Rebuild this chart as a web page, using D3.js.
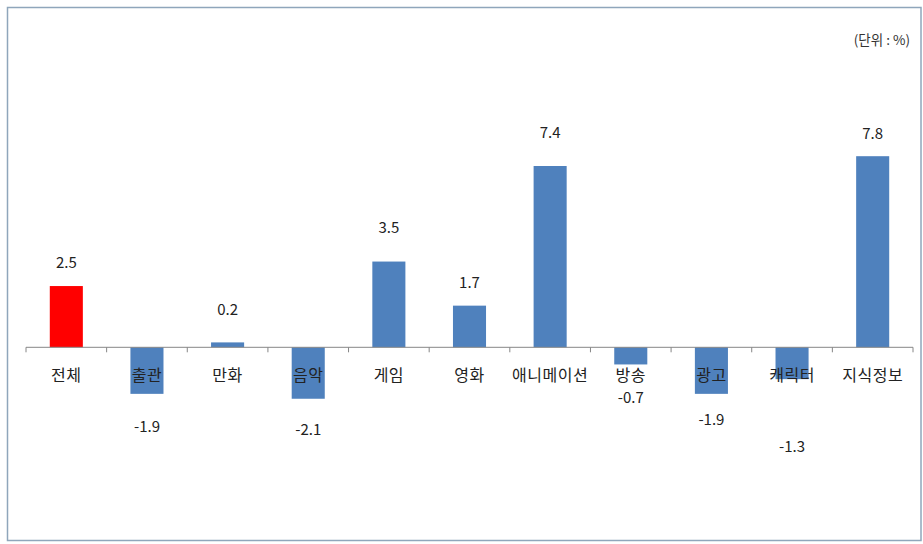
<!DOCTYPE html>
<html><head><meta charset="utf-8">
<script src="https://cdn.jsdelivr.net/npm/d3@7"></script>
<style>body{margin:0;background:#fff}svg{display:block}</style>
</head><body><svg id="c" width="923" height="544"></svg>
<script>
const categories = ["전체","출관","만화","음악","게임","영화","애니메이션","방송","광고","캐릭터","지식정보"];
const values = [2.5,-1.9,0.2,-2.1,3.5,1.7,7.4,-0.7,-1.9,-1.3,7.8];
const valueLabels = ["2.5","-1.9","0.2","-2.1","3.5","1.7","7.4","-0.7","-1.9","-1.3","7.8"];
const unitText = "(단위 : %)";
// label anchor positions (in value units) as placed in the original
const labelAt = [3.44,-3.25,1.52,-3.38,4.87,2.62,8.75,-2.07,-2.97,-4.07,8.71];

const svg = d3.select("#c");
const font = "'Noto Sans CJK KR','Malgun Gothic',sans-serif";

svg.append("rect").attr("x",7.5).attr("y",7.5).attr("width",913.5).attr("height",533)
  .attr("fill","#fff").attr("stroke","#8fa6bb").attr("stroke-width",1.5);

const x = d3.scaleBand().domain(categories).range([26,913]).padding(0);
const y = d3.scaleLinear().domain([-6,12]).range([494.3,53.3]);
const bw = x.bandwidth()*0.41;

svg.selectAll("rect.bar").data(values).join("rect").attr("class","bar")
  .attr("x",(d,i)=>x(categories[i])+(x.bandwidth()-bw)/2)
  .attr("width",bw)
  .attr("y",d=>Math.min(y(d),y(0)))
  .attr("height",d=>Math.abs(y(d)-y(0)))
  .attr("fill",(d,i)=>i===0?"#ff0000":"#4f81bd");

const g = svg.append("g");
g.append("line").attr("x1",26).attr("x2",913).attr("y1",y(0)).attr("y2",y(0))
  .attr("stroke","#868686").attr("stroke-width",1);
const ticks = categories.map(c=>x(c)).concat([x(categories[categories.length-1])+x.bandwidth()]);
g.selectAll("line.t").data(ticks).join("line").attr("class","t")
  .attr("x1",d=>d).attr("x2",d=>d).attr("y1",y(0)).attr("y2",y(0)+5)
  .attr("stroke","#868686").attr("stroke-width",1);

svg.selectAll("text.cat").data(categories).join("text").attr("class","cat")
  .attr("x",d=>x(d)+x.bandwidth()/2).attr("y",375).attr("dy","0.35em")
  .attr("text-anchor","middle").attr("font-family",font).attr("font-size",16)
  .attr("letter-spacing","0.5px")
  .attr("fill","#222").text(d=>d);

svg.selectAll("text.val").data(valueLabels).join("text").attr("class","val")
  .attr("x",(d,i)=>x(categories[i])+x.bandwidth()/2).attr("y",(d,i)=>y(labelAt[i])).attr("dy","0.35em")
  .attr("text-anchor","middle").attr("font-family",font).attr("font-size",15)
  .attr("fill","#222").text(d=>d);

svg.append("text").attr("x",910).attr("y",40).attr("dy","0.35em").attr("text-anchor","end")
  .attr("font-family",font).attr("font-size",13.5).attr("fill","#333").text(unitText);
</script></body></html>
